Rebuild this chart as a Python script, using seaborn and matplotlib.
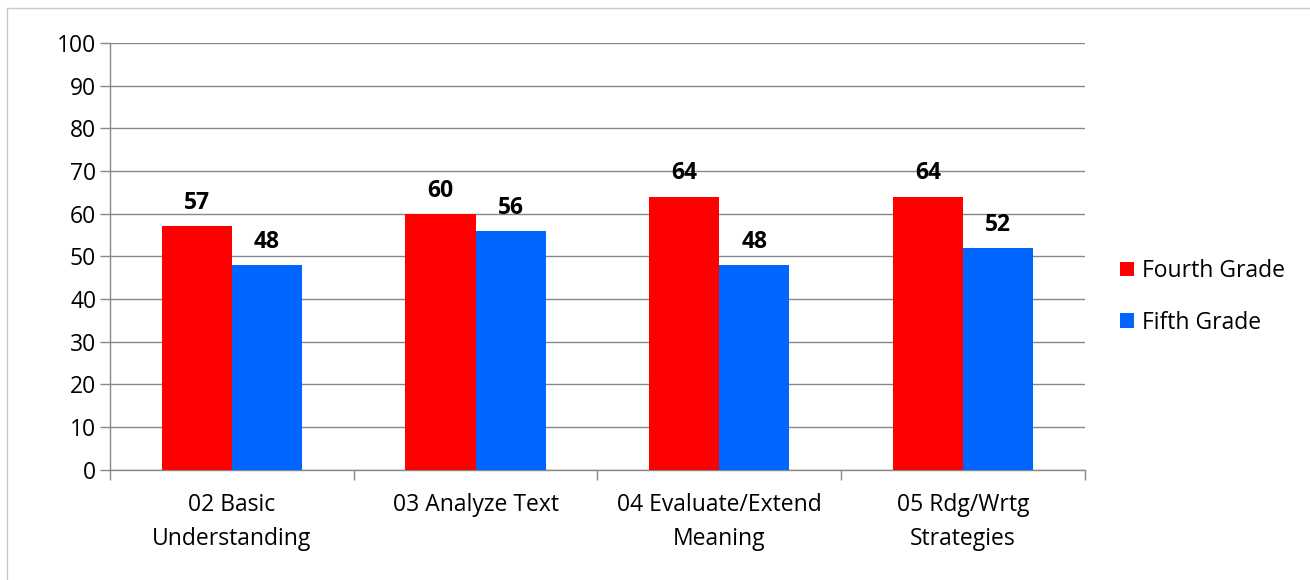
import matplotlib
matplotlib.use("Agg")
import matplotlib.pyplot as plt
import pandas as pd
import seaborn as sns
from matplotlib.patches import Rectangle

categories = ["02 Basic\nUnderstanding", "03 Analyze Text",
              "04 Evaluate/Extend\nMeaning", "05 Rdg/Wrtg\nStrategies"]
fourth_grade = [57, 60, 64, 64]
fifth_grade = [48, 56, 48, 52]
series = ["Fourth Grade", "Fifth Grade"]
colors = ["#ff0000", "#0066ff"]

df = pd.DataFrame({
    "category": categories * 2,
    "value": fourth_grade + fifth_grade,
    "series": [series[0]] * 4 + [series[1]] * 4,
})

sns.set_style("white")
plt.rcParams["font.family"] = ["Open Sans", "DejaVu Sans"]
plt.rcParams["text.color"] = "black"
plt.rcParams["xtick.color"] = "black"
plt.rcParams["ytick.color"] = "black"

fig = plt.figure(figsize=(13.1, 5.8), dpi=100)
ax = fig.add_axes([0.084, 0.19, 0.744, 0.736])

sns.barplot(data=df, x="category", y="value", hue="series",
            palette=colors, width=0.575, saturation=1, linewidth=0,
            ax=ax, zorder=3)

for cont in ax.containers:
    ax.bar_label(cont, fmt="%d", padding=8, fontsize=16.5, fontweight="bold",
                 color="black")

grid_c = "#888888"
ax.set_ylim(0, 100)
ax.set_yticks(range(0, 101, 10))
ax.set_xlim(-0.5, 3.5)
ax.yaxis.grid(True, color=grid_c, linewidth=1, zorder=0)
ax.set_axisbelow(True)
ax.set_xlabel("")
ax.set_ylabel("")
for s in ["top", "right"]:
    ax.spines[s].set_visible(False)
for s in ["left", "bottom"]:
    ax.spines[s].set_color(grid_c)
    ax.spines[s].set_linewidth(1)

ax.set_xticks([-0.5, 0.5, 1.5, 2.5, 3.5])
ax.set_xticklabels([])
ax.set_xticks(range(4), minor=True)
ax.set_xticklabels(categories, minor=True, fontsize=16.5, linespacing=1.55)
ax.tick_params(axis="x", which="major", direction="out", length=7, color=grid_c, width=1)
ax.tick_params(axis="x", which="minor", length=0, pad=17, labelcolor="black")
ax.tick_params(axis="y", direction="out", length=7, color=grid_c, width=1,
               labelsize=16.5, pad=3, labelcolor="black")
ax.tick_params(left=True, bottom=True)

leg = ax.legend(loc="center left", bbox_to_anchor=(1.015, 0.405), frameon=False,
                fontsize=16.5, handlelength=0.6, handleheight=0.6,
                labelspacing=1.2, handletextpad=0.35)

fig.patches.append(Rectangle((0.005, -0.01), 1.0, 0.997, transform=fig.transFigure,
                             fill=False, edgecolor="#c8c8c8", linewidth=1))

fig.savefig("out.png", dpi=100)
